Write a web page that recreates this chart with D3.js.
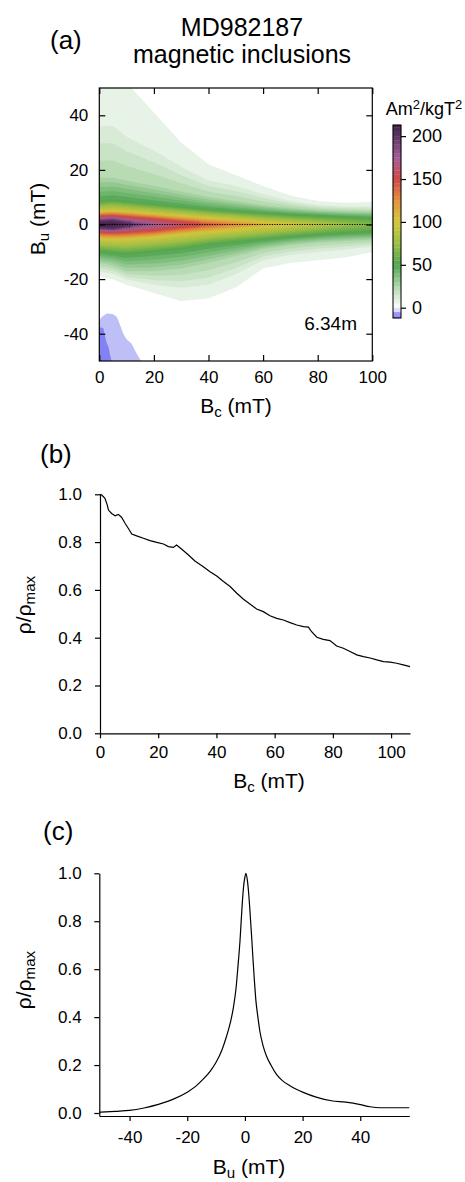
<!DOCTYPE html>
<html><head><meta charset="utf-8">
<script src="https://cdn.jsdelivr.net/npm/d3@7"></script>
<style>
body{margin:0;background:#fff}
text{font-family:"Liberation Sans",Arial,Helvetica,sans-serif;fill:#000}
</style>
</head><body>
<svg id="fig" width="465" height="1182" xmlns="http://www.w3.org/2000/svg"></svg>
<script>
// ---------------- DATA ----------------
// Panel (a): FORC-like density, described per Bc column
const colBc = [0, 5, 10, 20, 30, 40, 50, 60, 70, 80, 90, 100];
const ridge = [210, 213, 205, 178, 160, 145, 128, 112, 100, 88, 76, 66];
const levels = [200, 150, 100, 50, 25, 10, 5];
// distance (mT) above Bu=0 where the density falls to each level (null = level not reached)
const up200 = [1.2, 1.5, 0.6, null, null, null, null, null, null, null, null, null];
const up150 = [3.0, 3.2, 2.8, 2.0, 1.0, null, null, null, null, null, null, null];
const up100 = [4.7, 4.9, 4.6, 3.8, 3.0, 2.3, 1.6, 0.7, 0.1, null, null, null];
const up50  = [8.5, 9.0, 8.5, 7.5, 6.5, 5.5, 4.8, 4.2, 3.6, 3.2, 2.8, 2.4];
const up25  = [17, 17, 16, 14, 12, 10, 8.5, 7, 6, 5.2, 4.8, 4.6];
const up10  = [36, 36, 32, 27, 21, 16, 14, 11, 8.5, 7, 6.5, 6.5];
const up5   = [56, 56, 52, 41, 30, 22, 18, 14, 10.5, 8.5, 7.8, 8.2];
// distance (mT) below Bu=0
const lo200 = [1.2, 1.5, 0.6, null, null, null, null, null, null, null, null, null];
const lo150 = [2.8, 3.0, 2.8, 2.2, 1.0, null, null, null, null, null, null, null];
const lo100 = [5.0, 5.3, 5.2, 4.5, 3.5, 2.6, 1.7, 0.8, 0.1, null, null, null];
const lo50  = [10, 10.5, 11, 10, 9, 7.5, 6.5, 5.5, 4.5, 3.8, 3.2, 2.8];
const lo25  = [14, 15, 17, 17, 16, 14, 11.5, 9, 7.5, 6.5, 6, 5.5];
const lo10  = [17, 18, 20, 22, 23, 22, 18, 13, 11, 10, 9, 8];
const lo5   = [19, 20, 22, 25, 28, 27, 23, 16, 14, 13, 12, 10];
// negative region (bottom-left), [Bc, Bu]
const negOuter = [[0,-35],[1,-33.8],[2.8,-32.6],[5,-32.8],[6.5,-34],[7.5,-36.5],[8.8,-40],[10,-42],[11.8,-43.6],[13.7,-47.3],[15.6,-50.5],[0,-50.5]];
const negInner = [[0,-37.5],[1.5,-38],[2,-40.5],[2.6,-43],[3.4,-45],[4,-48],[4.6,-50.5],[0,-50.5]];
const ticksA_x = [0, 20, 40, 60, 80, 100];
const ticksA_y = [-40, -20, 0, 20, 40];
const cbTicks = [0, 50, 100, 150, 200];

// Panel (b): normalised ridge density vs Bc
const bcB = [0,0.6,1.7,2.5,2.9,4.0,5.2,6.3,7.4,8.6,9.7,10.9,12.6,14.9,17.2,19.5,21.8,23.5,25.2,26.3,28.1,30.4,32.6,35.5,37.8,40.1,42.4,44.7,47.0,49.3,51.5,53.8,56.1,58.4,60.7,63.0,65.3,67.6,69.9,71.6,72.7,74.5,76.7,79.0,81.3,83.6,85.9,88.2,90.5,92.8,95.1,97.4,99.7,101.9,104.2,106.5];
const rhoB = [1.0,0.997,0.983,0.955,0.934,0.92,0.91,0.916,0.904,0.879,0.858,0.834,0.826,0.816,0.806,0.799,0.792,0.781,0.778,0.788,0.770,0.746,0.721,0.697,0.676,0.658,0.635,0.614,0.586,0.561,0.541,0.520,0.509,0.492,0.481,0.474,0.463,0.453,0.446,0.444,0.425,0.402,0.393,0.388,0.365,0.356,0.342,0.328,0.321,0.315,0.307,0.300,0.298,0.293,0.286,0.279];

// Panel (c): normalised profile vs Bu
const buC = [-50.5,-45,-40,-35,-30,-25,-20,-17,-15,-12,-10,-8,-6.4,-5,-4,-3,-2.5,-1.7,-1,-0.5,0,0.35,0.8,1.3,1.7,2.4,2.7,3.3,3.8,4.5,5.2,6.3,7.5,9,11,13,15.6,18,20.2,25,30,35,40,43.4,47,57];
const rhoC = [0.003,0.007,0.011,0.021,0.036,0.057,0.087,0.112,0.135,0.175,0.212,0.262,0.319,0.38,0.44,0.53,0.6,0.72,0.86,0.94,0.985,1.0,0.975,0.917,0.85,0.722,0.66,0.55,0.47,0.4,0.34,0.28,0.237,0.2,0.16,0.135,0.114,0.098,0.086,0.065,0.051,0.045,0.035,0.026,0.022,0.022];
const ticksB_x = [0, 20, 40, 60, 80, 100];
const ticksRho = [0, 0.2, 0.4, 0.6, 0.8, 1.0];
const ticksC_x = [-40, -20, 0, 20, 40];

// ---------------- SETUP ----------------
const svg = d3.select("#fig");
const color = d3.scaleLinear()
  .domain([-12, -6, -1, 0, 5, 10, 25, 50, 75, 100, 125, 150, 175, 200, 215])
  .range(['#6f6ff0','#a8a8f6','#f4f4fe','#ffffff','#eef6ed','#e0efde','#b0d7ac','#50a550','#9cbf48','#d4c73e','#e2903f','#d04946','#a25f99','#5d3464','#3c1b42'])
  .clamp(true);

function sub(textSel, parts) {
  parts.forEach(([t, s], i) => {
    const ts = textSel.append("tspan").text(t);
    if (s) ts.attr("font-size", "0.72em").attr("dy", "0.28em");
    else if (i > 0 && parts[i-1][1]) ts.attr("dy", "-0.2em");
  });
}

// ---------------- PANEL (a) ----------------
const xA = d3.scaleLinear().domain([0, 100]).range([99.3, 372.3]);
const yA = d3.scaleLinear().domain([-50, 50]).range([361, 88]);

const upper = [up200, up150, up100, up50, up25, up10, up5];
const lower = [lo200, lo150, lo100, lo50, lo25, lo10, lo5];
function colInterp(arr, bc) {
  let i = d3.bisectRight(colBc, bc) - 1;
  i = Math.max(0, Math.min(colBc.length - 2, i));
  const t = (bc - colBc[i]) / (colBc[i+1] - colBc[i]);
  const a = arr[i] == null ? 0 : arr[i], b = arr[i+1] == null ? 0 : arr[i+1];
  return a + (b - a) * t;
}
function density(bc, bu) {
  const r = colInterp(ridge, bc);
  const side = bu >= 0 ? upper : lower;
  const d = Math.abs(bu);
  const anchors = [[0, r]];
  levels.forEach((L, k) => {
    if (L >= r) return;
    let dist = colInterp(side[k], bc);
    const last = anchors[anchors.length - 1][0];
    if (dist <= last) dist = last + 0.02;
    anchors.push([dist, L]);
  });
  anchors.push([anchors[anchors.length - 1][0] + 4, 0]);
  for (let i = 1; i < anchors.length; i++) {
    if (d <= anchors[i][0]) {
      const [d0, v0] = anchors[i-1], [d1, v1] = anchors[i];
      return v0 + (v1 - v0) * (d - d0) / (d1 - d0);
    }
  }
  return 0;
}
const stepBc = 0.5, stepBu = 0.25;
const nx = Math.round(100 / stepBc) + 1, ny = Math.round(100 / stepBu) + 1;
const grid = new Float64Array(nx * ny);
for (let j = 0; j < ny; j++) for (let i = 0; i < nx; i++)
  grid[j * nx + i] = density(i * stepBc, -50 + j * stepBu);

const thresholds = d3.range(5, 215, 5);
const contours = d3.contours().size([nx, ny]).thresholds(thresholds)(grid);
const proj = d3.geoTransform({point: function(x, y) {
  this.stream.point(xA((x - 0.5) * stepBc), yA(-50 + (y - 0.5) * stepBu));
}});
const gpath = d3.geoPath(proj);

svg.append("clipPath").attr("id", "clipA").append("rect")
  .attr("x", xA(0)).attr("y", yA(50)).attr("width", xA(100) - xA(0)).attr("height", yA(-50) - yA(50));
const gA = svg.append("g").attr("clip-path", "url(#clipA)");
gA.selectAll("path.band").data(contours).join("path").attr("class", "band")
  .attr("d", gpath).attr("fill", d => color(d.value + 2.5)).attr("stroke", d => color(d.value + 2.5)).attr("stroke-width", 0.3);
const polyLine = d3.line().x(d => xA(d[0])).y(d => yA(d[1]));
gA.append("path").attr("d", polyLine(negOuter) + "Z").attr("fill", color(-4.5));
gA.append("path").attr("d", polyLine(negInner) + "Z").attr("fill", color(-10));
gA.append("line").attr("x1", xA(0)).attr("x2", xA(100)).attr("y1", yA(0)).attr("y2", yA(0))
  .attr("stroke", "#000").attr("stroke-width", 1.2).attr("stroke-dasharray", "1.2,1.3");

svg.append("rect").attr("x", xA(0)).attr("y", yA(50)).attr("width", xA(100) - xA(0)).attr("height", yA(-50) - yA(50))
  .attr("fill", "none").attr("stroke", "#000").attr("stroke-width", 1.2);
function styleAxis(g) {
  g.select(".domain").remove();
  g.selectAll(".tick line").attr("stroke", "#000").attr("stroke-width", 1.2);
  g.selectAll(".tick text").attr("font-size", 17).attr("font-family", '"Liberation Sans",Arial,sans-serif').attr("fill", "#000");
}
const fmtInt = d => String(d);
svg.append("g").attr("transform", `translate(0,${yA(-50)})`)
  .call(d3.axisBottom(xA).tickValues(ticksA_x).tickFormat(fmtInt).tickSize(-6).tickPadding(10)).call(styleAxis);
svg.append("g").attr("transform", `translate(0,${yA(50)})`)
  .call(d3.axisTop(xA).tickValues(ticksA_x).tickFormat("").tickSize(-6)).call(styleAxis);
svg.append("g").attr("transform", `translate(${xA(0)},0)`)
  .call(d3.axisLeft(yA).tickValues(ticksA_y).tickFormat(fmtInt).tickSize(-6).tickPadding(11)).call(styleAxis);
svg.append("g").attr("transform", `translate(${xA(100)},0)`)
  .call(d3.axisRight(yA).tickValues(ticksA_y).tickFormat("").tickSize(-6)).call(styleAxis);

svg.append("text").attr("x", 242).attr("y", 36).attr("text-anchor", "middle").attr("font-size", 25).text("MD982187");
svg.append("text").attr("x", 242).attr("y", 63).attr("text-anchor", "middle").attr("font-size", 25).text("magnetic inclusions");
svg.append("text").attr("x", 50).attr("y", 49).attr("font-size", 26).text("(a)");
sub(svg.append("text").attr("x", 236).attr("y", 413).attr("text-anchor", "middle").attr("font-size", 21),
  [["B", false], ["c", true], [" (mT)", false]]);
sub(svg.append("text").attr("transform", "rotate(-90)").attr("x", -219).attr("y", 45).attr("text-anchor", "middle").attr("font-size", 21),
  [["B", false], ["u", true], [" (mT)", false]]);
svg.append("text").attr("x", 357).attr("y", 330).attr("text-anchor", "end").attr("font-size", 19).text("6.34m");

// colour bar
const cbY = d3.scaleLinear().domain([-12, 213]).range([318, 125]);
const cbSteps = d3.range(-15, 215, 5);
svg.append("g").selectAll("rect").data(cbSteps).join("rect")
  .attr("x", 393).attr("width", 8)
  .attr("y", d => cbY(Math.min(d + 5, 213)))
  .attr("height", d => cbY(Math.max(d, -12)) - cbY(Math.min(d + 5, 213)))
  .attr("fill", d => color(d + 2.5)).attr("stroke", d => color(d + 2.5)).attr("stroke-width", 0.3);
svg.append("rect").attr("x", 393).attr("y", cbY(213)).attr("width", 8).attr("height", cbY(-12) - cbY(213))
  .attr("fill", "none").attr("stroke", "#000").attr("stroke-width", 1);
svg.append("g").attr("transform", "translate(401,0)")
  .call(d3.axisRight(cbY).tickValues(cbTicks).tickFormat(fmtInt).tickSize(5).tickPadding(6))
  .call(g => { g.select(".domain").remove(); g.selectAll(".tick line").attr("stroke", "#000").attr("stroke-width", 1.2);
    g.selectAll(".tick text").attr("font-size", 18).attr("font-family", '"Liberation Sans",Arial,sans-serif').attr("fill", "#000"); });
const unit = svg.append("text").attr("x", 424).attr("y", 115).attr("text-anchor", "middle").attr("font-size", 18);
unit.append("tspan").text("Am");
unit.append("tspan").attr("font-size", "0.72em").attr("dy", "-0.45em").text("2");
unit.append("tspan").attr("dy", "0.33em").text("/kgT");
unit.append("tspan").attr("font-size", "0.72em").attr("dy", "-0.45em").text("2");

// ---------------- PANEL (b) ----------------
const xB = d3.scaleLinear().domain([0, 106.5]).range([100, 410]);
const yB = d3.scaleLinear().domain([0, 1]).range([733.3, 494.3]);
function styleOut(g) {
  g.select(".domain").attr("stroke", "#000").attr("stroke-width", 1.2);
  g.selectAll(".tick line").attr("stroke", "#000").attr("stroke-width", 1.2);
  g.selectAll(".tick text").attr("font-size", 17).attr("font-family", '"Liberation Sans",Arial,sans-serif').attr("fill", "#000");
}
svg.append("g").attr("transform", `translate(0,${yB(0)})`)
  .call(d3.axisBottom(xB).tickValues(ticksB_x).tickFormat(fmtInt).tickSize(5).tickSizeOuter(0).tickPadding(8)).call(styleOut);
svg.append("g").attr("transform", `translate(${xB(0)},0)`)
  .call(d3.axisLeft(yB).tickValues(ticksRho).tickFormat(d => d.toFixed(1)).tickSize(5).tickSizeOuter(0).tickPadding(13)).call(styleOut);
svg.append("path").datum(d3.zip(bcB, rhoB))
  .attr("d", d3.line().x(d => xB(d[0])).y(d => yB(d[1])))
  .attr("fill", "none").attr("stroke", "#000").attr("stroke-width", 1.2);
svg.append("text").attr("x", 40).attr("y", 463).attr("font-size", 26).text("(b)");
sub(svg.append("text").attr("x", 269).attr("y", 788).attr("text-anchor", "middle").attr("font-size", 21),
  [["B", false], ["c", true], [" (mT)", false]]);
sub(svg.append("text").attr("transform", "rotate(-90)").attr("x", -605).attr("y", 31).attr("text-anchor", "middle").attr("font-size", 21),
  [["ρ/ρ", false], ["max", true]]);

// ---------------- PANEL (c) ----------------
const xC = d3.scaleLinear().domain([-50.5, 57]).range([99.3, 409.3]);
const yC = d3.scaleLinear().domain([-0.0125, 1]).range([1116, 873.3]);
svg.append("g").attr("transform", `translate(0,${yC(-0.0125)})`)
  .call(d3.axisBottom(xC).tickValues(ticksC_x).tickFormat(fmtInt).tickSize(5).tickSizeOuter(0).tickPadding(10)).call(styleOut);
svg.append("g").attr("transform", `translate(${xC(-50.5)},0)`)
  .call(d3.axisLeft(yC).tickValues(ticksRho).tickFormat(d => d.toFixed(1)).tickSize(5).tickSizeOuter(0).tickPadding(12.6)).call(styleOut);
svg.append("path").datum(d3.zip(buC, rhoC))
  .attr("d", d3.line().curve(d3.curveMonotoneX).x(d => xC(d[0])).y(d => yC(d[1])))
  .attr("fill", "none").attr("stroke", "#000").attr("stroke-width", 1.2);
svg.append("text").attr("x", 43).attr("y", 840).attr("font-size", 26).text("(c)");
sub(svg.append("text").attr("x", 249).attr("y", 1174).attr("text-anchor", "middle").attr("font-size", 21),
  [["B", false], ["u", true], [" (mT)", false]]);
sub(svg.append("text").attr("transform", "rotate(-90)").attr("x", -980).attr("y", 31).attr("text-anchor", "middle").attr("font-size", 21),
  [["ρ/ρ", false], ["max", true]]);
</script>
</body></html>
